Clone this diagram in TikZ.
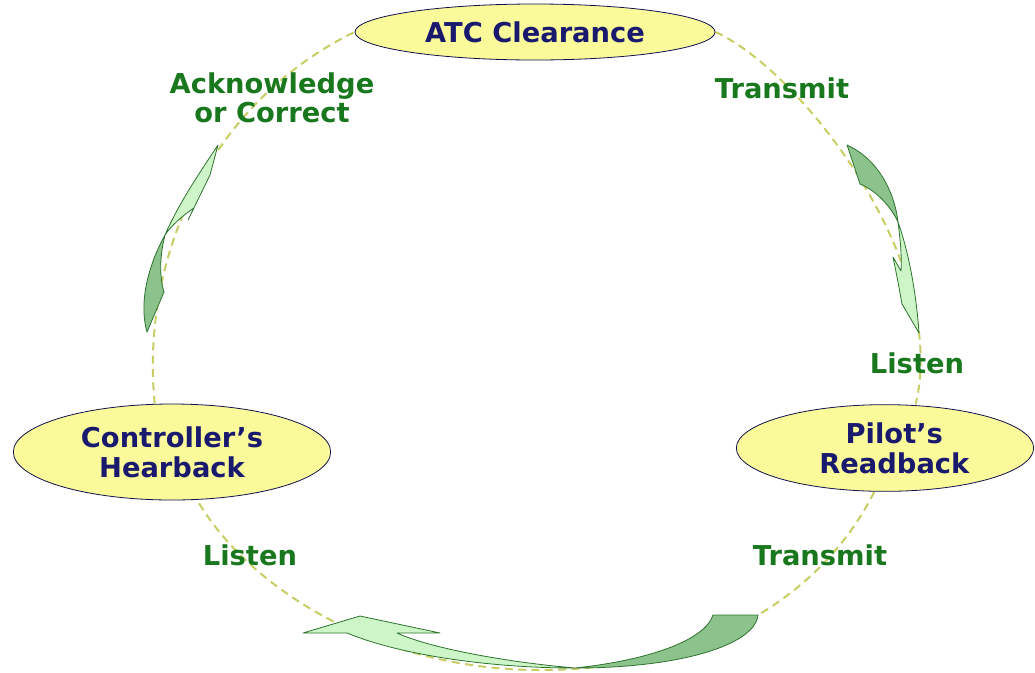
\documentclass[tikz,border=0pt]{standalone}
\usepackage{fontspec}
\setmainfont{DejaVu Sans}
\usetikzlibrary{shapes.geometric,backgrounds}

\definecolor{ringcol}{RGB}{200,205,100}
\definecolor{ovalfill}{RGB}{250,250,155}
\definecolor{ovaltext}{RGB}{25,25,110}
\definecolor{steptext}{RGB}{25,120,30}
\definecolor{arrowdark}{RGB}{140,195,140}
\definecolor{arrowlight}{RGB}{205,245,200}
\definecolor{arrowline}{RGB}{45,115,45}

\tikzset{
  oval/.style={ellipse,draw=ovaltext!70!black,line width=0.6pt,fill=ovalfill,text=ovaltext,
    font=\fontsize{20.5}{22.5}\selectfont\bfseries,align=center,inner sep=0pt},
  steplabel/.style={text=steptext,font=\fontsize{20.5}{22}\selectfont\bfseries,align=center,inner sep=0.75pt},
  ring/.style={draw=ringcol,line width=1.5pt,dash pattern=on 6pt off 4pt},
  backface/.style={fill=arrowdark,draw=arrowline,line width=0.6pt,line join=round},
  frontface/.style={fill=arrowlight,draw=arrowline,line width=0.6pt,line join=round}
}

\begin{document}
\begin{tikzpicture}[x=0.75pt,y=0.75pt,yscale=-1,xscale=1]
\useasboundingbox (0,0) rectangle (1035,672);

%Shape: Ellipse [atc]
\node[oval,minimum width=270pt,minimum height=42pt] (atc) at (535,32) {ATC Clearance};
%Shape: Ellipse [pilot]
\node[oval,minimum width=223pt,minimum height=65pt] (pilot) at (885,448) {\hspace*{14pt}Pilot’s\\\hspace*{14pt}Readback};
%Shape: Ellipse [ctrl]
\node[oval,minimum width=238pt,minimum height=72pt] (ctrl) at (172,452) {Controller’s\\Hearback};

% Text Node
\node[steplabel] (ack) at (272,98) {Acknowledge\\or Correct};
% Text Node
\node[steplabel] (txtop) at (782,88) {Transmit};
% Text Node
\node[steplabel] (lsright) at (917,363) {Listen};
% Text Node
\node[steplabel] (txbot) at (820,555) {Transmit};
% Text Node
\node[steplabel] (lsleft) at (250,555) {Listen};

%Curved Arrow: right side
\draw[backface] (847,145) .. controls (880,160) and (895,195) .. (898,222) .. controls (890,205) and (875,190) .. (860,184) -- cycle;
\draw[frontface] (898,222) .. controls (908,250) and (916,290) .. (919,333) -- (902,304) -- (898,282) -- (893,257) -- (901,271) .. controls (902,255) and (900,238) .. (898,222) -- cycle;

%Curved Arrow: bottom
\draw[backface] (713,615) -- (758,615) .. controls (755,645) and (680,668) .. (575,668) .. controls (650,660) and (705,640) .. (713,615) -- cycle;
\draw[frontface] (575,668) .. controls (490,668) and (400,655) .. (347,633) -- (303,633) -- (360,616) -- (440,633) -- (397,633) .. controls (430,648) and (505,662) .. (575,668) -- cycle;

%Curved Arrow: left side
\draw[backface] (147,332) .. controls (138,300) and (150,262) .. (165,235) .. controls (160,255) and (159,275) .. (164,292) -- cycle;
\draw[frontface] (165,235) .. controls (178,205) and (198,175) .. (218,145) -- (210,175) -- (188,220) -- (194,208) .. controls (182,216) and (171,226) .. (165,235) -- cycle;

%Dashed ring
\begin{scope}[on background layer]
\draw[ring] (atc.east) .. controls (800,70) and (950,262) .. ([xshift=23pt]pilot.north);
\draw[ring] ([xshift=-8pt]pilot.south) .. controls (820,600) and (700,670) .. (540,670)
  .. controls (380,670) and (250,590) .. ([xshift=19pt]ctrl.south);
\draw[ring] ([xshift=-13pt]ctrl.north) .. controls (140,250) and (215,100) .. (atc.west);
\end{scope}

\end{tikzpicture}
\end{document}
